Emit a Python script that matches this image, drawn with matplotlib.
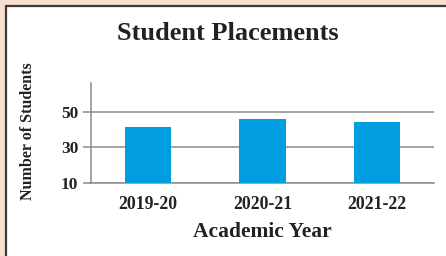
import matplotlib
matplotlib.use('Agg')
import matplotlib.pyplot as plt
from matplotlib.patches import Rectangle

years = ['2019-20', '2020-21', '2021-22']
students = [41.5, 46, 44.5]
yticks = [10, 30, 50]

plt.rcParams['font.family'] = 'Liberation Serif'
plt.rcParams['font.weight'] = 'bold'

fig = plt.figure(figsize=(4.46, 2.56), dpi=100)
fig.patch.set_facecolor('#f8ddd3')
# white card with dark border on the left/top
fig.patches.append(Rectangle((5.5 / 446, -0.1), 1.2, (256 - 5.5) / 256 + 0.1,
                             transform=fig.transFigure, facecolor='white',
                             edgecolor='#3a3a3a', linewidth=1.6, zorder=-5))

ax = fig.add_axes([90.7 / 446, 73 / 256, (434 - 90.7) / 446, 100 / 256])
ax.set_facecolor('none')
ax.bar(range(len(years)), students, width=0.405, bottom=0, color='#009ee0', zorder=3)
ax.set_xlim(-0.5, 2.5)
ax.set_ylim(10, 66.3)
ax.set_yticks(yticks)
ax.set_xticks(range(len(years)))
ax.set_xticklabels(years)
ax.yaxis.grid(True, color='#8c8c8c', linewidth=1.1, zorder=1)
for s in ['top', 'right']:
    ax.spines[s].set_visible(False)
for s in ['left', 'bottom']:
    ax.spines[s].set_color('#8c8c8c')
    ax.spines[s].set_linewidth(1.1)
ax.tick_params(axis='y', length=6, width=1.1, color='#8c8c8c', labelsize=12.5,
               labelcolor='#222222', pad=3)
ax.tick_params(axis='x', length=0, labelsize=12.8, labelcolor='#222222', pad=9.5)

ax.set_xlabel('Academic Year', fontsize=15.5, fontweight='bold', color='#222222', labelpad=6.5)
fig.text(28 / 446, 1 - 131 / 256, 'Number of Students', rotation=90, ha='center',
         va='center', fontsize=11.5, fontweight='bold', color='#222222')
fig.text(228 / 446, 1 - 34 / 256, 'Student Placements', ha='center', va='center',
         fontsize=19, fontweight='bold', color='#222222')

fig.savefig('out.png', dpi=100, facecolor=fig.get_facecolor())
